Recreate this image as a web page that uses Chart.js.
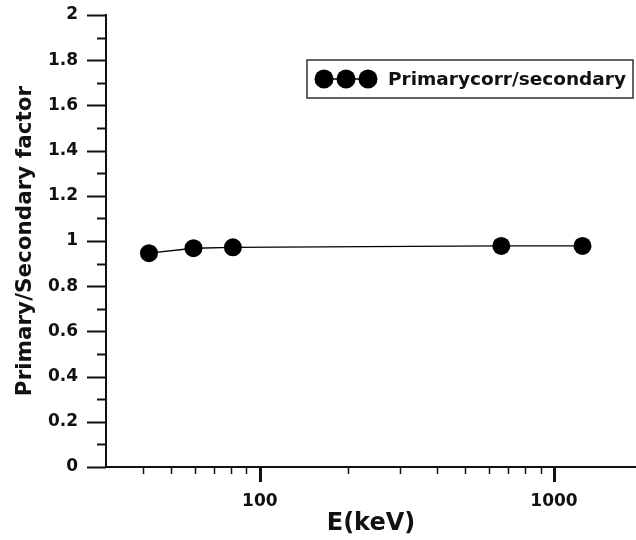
<!DOCTYPE html>
<html>
<head>
<meta charset="utf-8">
<script src="https://cdn.jsdelivr.net/npm/chart.js@4.4.0/dist/chart.umd.min.js"></script>
<style>
  html, body { margin: 0; padding: 0; background: #fff; }
  canvas { display: block; }
</style>
</head>
<body>
<canvas id="chart" width="636" height="540"></canvas>
<script>
// data
const energies = [42, 59.5, 81, 662, 1250];
const factors = [0.946, 0.968, 0.972, 0.978, 0.978];
const xLabeledTicks = [100, 1000];
const seriesName = "Primarycorr/secondary";

const FONT = "DejaVu Sans";
const INK = "#111";

// drop the extra room Chart.js keeps for edge labels
function noEdgePadding(s) {
  s.paddingLeft = 0;
  s.paddingRight = 0;
  s.paddingTop = 0;
  s.paddingBottom = 0;
}

// only 1..9 x 10^n get a tick mark on the log axis
function isDecadeStep(v) {
  const sig = v / Math.pow(10, Math.floor(Math.log10(v) + 1e-9));
  return Math.abs(sig - Math.round(sig)) < 1e-6;
}

// tick marks (major + minor) and the boxed legend
const decor = {
  id: "decor",
  afterDraw(chart) {
    const ctx = chart.ctx;
    const xs = chart.scales.x, ys = chart.scales.y;
    ctx.save();
    ctx.strokeStyle = INK;

    xs.ticks.forEach(t => {
      const v = t.value;
      if (v <= xs.min || v >= xs.max || !isDecadeStep(v)) return;
      const major = xLabeledTicks.some(m => Math.abs(m - v) < 1e-6);
      const px = Math.round(xs.getPixelForValue(v)) + 0.5;
      ctx.lineWidth = major ? 3 : 1.5;
      ctx.beginPath();
      ctx.moveTo(px, xs.top);
      ctx.lineTo(px, xs.top + (major ? 15 : 7));
      ctx.stroke();
    });

    ys.ticks.forEach(t => {
      const v = t.value;
      const major = Math.round(v * 10) % 2 === 0;
      const py = Math.round(ys.getPixelForValue(v)) + 0.5;
      ctx.lineWidth = 2;
      ctx.beginPath();
      ctx.moveTo(ys.right, py);
      ctx.lineTo(ys.right - (major ? 19 : 9), py);
      ctx.stroke();
    });

    // legend
    const bx = 307, by = 60, bw = 326, bh = 38;
    ctx.lineWidth = 1.5;
    ctx.strokeStyle = "#333";
    ctx.strokeRect(bx, by, bw, bh);
    const cy = by + bh / 2;
    ctx.strokeStyle = "#000";
    ctx.beginPath();
    ctx.moveTo(324, cy);
    ctx.lineTo(368, cy);
    ctx.stroke();
    ctx.fillStyle = "#000";
    [324, 346, 368].forEach(cx => {
      ctx.beginPath();
      ctx.arc(cx, cy, 9.5, 0, Math.PI * 2);
      ctx.fill();
    });
    ctx.fillStyle = INK;
    ctx.font = "bold 18.5px '" + FONT + "'";
    ctx.textBaseline = "middle";
    ctx.fillText(chart.data.datasets[0].label, 388, cy + 1);
    ctx.restore();
  }
};

new Chart(document.getElementById("chart"), {
  type: "scatter",
  data: {
    datasets: [{
      label: seriesName,
      data: energies.map((e, i) => ({ x: e, y: factors[i] })),
      showLine: true,
      borderColor: "#000",
      borderWidth: 1.3,
      backgroundColor: "#000",
      pointRadius: 9,
      pointHoverRadius: 9,
      pointBorderWidth: 0
    }]
  },
  options: {
    responsive: false,
    animation: false,
    layout: { autoPadding: false, padding: { top: 15, right: 0, left: 0, bottom: 0 } },
    plugins: {
      legend: { display: false },
      tooltip: { enabled: false }
    },
    scales: {
      x: {
        type: "logarithmic",
        min: 30,
        max: 1900,
        grid: { display: false, drawTicks: false },
        border: { display: true, color: INK, width: 2 },
        ticks: {
          autoSkip: false,
          maxRotation: 0,
          padding: 24,
          color: INK,
          font: { family: FONT, weight: "bold", size: 17 },
          callback: v => xLabeledTicks.some(m => Math.abs(m - v) < 1e-6) ? String(v) : ""
        },
        title: {
          display: true,
          text: "E(keV)",
          color: INK,
          font: { family: FONT, weight: "bold", size: 24 },
          padding: { top: 0, bottom: 2 }
        },
        afterFit: s => { s.height = 73; noEdgePadding(s); }
      },
      y: {
        min: 0,
        max: 2,
        grid: { display: false, drawTicks: false },
        border: { display: true, color: INK, width: 2 },
        ticks: {
          stepSize: 0.1,
          autoSkip: false,
          padding: 28,
          color: INK,
          font: { family: FONT, weight: "bold", size: 17 },
          callback: v => Math.round(v * 10) % 2 === 0 ? String(+v.toFixed(1)) : ""
        },
        title: {
          display: true,
          text: "Primary/Secondary factor",
          color: INK,
          font: { family: FONT, weight: "bold", size: 21.5 },
          padding: { top: 13, bottom: 0 }
        },
        afterFit: s => { s.width = 106; noEdgePadding(s); }
      }
    }
  },
  plugins: [decor]
});
</script>
</body>
</html>
